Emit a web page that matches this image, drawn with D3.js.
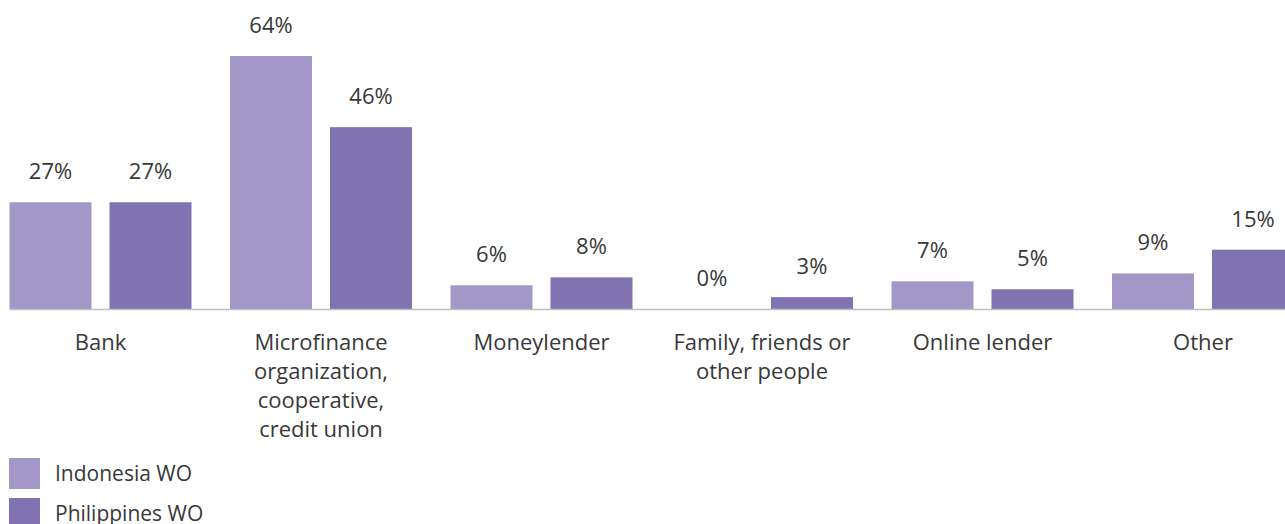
<!DOCTYPE html>
<html><head><meta charset="utf-8">
<script src="https://cdn.jsdelivr.net/npm/d3@7/dist/d3.min.js"></script>
<style>
html,body{margin:0;padding:0;background:#fff;overflow:hidden;}
svg{display:block;font-family:"Open Sans","Noto Sans",sans-serif;}
</style></head>
<body><svg id="c" width="1285" height="524"></svg>
<script>
const categories = [
  ["Bank"],
  ["Microfinance","organization,","cooperative,","credit union"],
  ["Moneylender"],
  ["Family, friends or","other people"],
  ["Online lender"],
  ["Other"]
];
const seriesNames = ["Indonesia WO","Philippines WO"];
const indonesia = [27,64,6,0,7,9];
const philippines = [27,46,8,3,5,15];
const colors = ["#a397c8","#8172b2"];

const svg = d3.select("#c");
const baseY = 309;
const y = d3.scaleLinear().domain([0,64]).range([baseY,56]);
const x0 = d3.scaleBand().domain(d3.range(categories.length))
  .range([-9.75, 1313.25]).paddingInner(38.5/220.5).paddingOuter(19.25/220.5);
const x1 = d3.scaleBand().domain(seriesNames).range([0, x0.bandwidth()]).paddingInner(0.18);

const data = categories.map((c,i)=>({cat:i, vals:[indonesia[i], philippines[i]]}));

const g = svg.append("g");
const groups = g.selectAll("g.grp").data(data).join("g")
  .attr("transform", d=>`translate(${x0(d.cat)},0)`);

groups.selectAll("rect").data(d=>d.vals.map((v,k)=>({v,k}))).join("rect")
  .attr("x", d=>x1(seriesNames[d.k]))
  .attr("width", x1.bandwidth())
  .attr("y", d=>y(d.v))
  .attr("height", d=>baseY - y(d.v))
  .attr("fill", d=>colors[d.k]);

groups.selectAll("text.val").data(d=>d.vals.map((v,k)=>({v,k}))).join("text")
  .attr("class","val")
  .attr("x", d=>x1(seriesNames[d.k]) + x1.bandwidth()/2)
  .attr("y", d=>y(d.v) - 23)
  .attr("text-anchor","middle")
  .attr("font-size", 22)
  .attr("fill","#383838")
  .text(d=>d.v + "%");

// baseline
g.append("line").attr("x1", x0(0)).attr("x2", 1285)
  .attr("y1", baseY+0.5).attr("y2", baseY+0.5)
  .attr("stroke","#bfbfbf").attr("stroke-width",1.5);

// category labels
groups.append("text")
  .attr("text-anchor","middle")
  .attr("font-size", 22)
  .attr("fill","#383838")
  .each(function(d){
    const t = d3.select(this);
    categories[d.cat].forEach((line,j)=>{
      t.append("tspan").attr("x", x0.bandwidth()/2).attr("y", 350 + j*29).text(line);
    });
  });

// legend
const leg = svg.append("g").attr("transform","translate(9,458)");
const li = leg.selectAll("g").data(seriesNames).join("g")
  .attr("transform",(d,i)=>`translate(0,${i*40})`);
li.append("rect").attr("width",31).attr("height",31).attr("fill",(d,i)=>colors[i]);
li.append("text").attr("x",46).attr("y",23).attr("font-size",21).attr("fill","#383838").text(d=>d);
</script>
</body></html>
